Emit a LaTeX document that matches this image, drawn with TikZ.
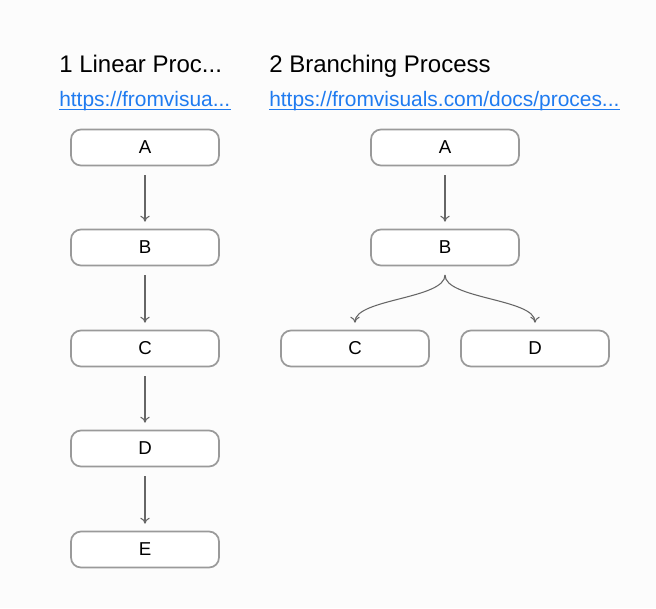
\documentclass[tikz,border=0pt]{standalone}
\usepackage{fontspec}
\setmainfont{Liberation Sans}
\usetikzlibrary{arrows.meta}
\definecolor{bg}{HTML}{FCFCFC}
\definecolor{boxline}{HTML}{9A9A9A}
\definecolor{arrowc}{HTML}{666666}
\definecolor{linkc}{HTML}{1F7BF0}
\tikzset{
  procbox/.style={draw=boxline, line width=1.3pt, rounded corners=7.5pt, fill=white,
    minimum width=111pt, minimum height=27pt, inner sep=0pt, font=\fontsize{14pt}{16pt}\selectfont},
  title/.style={anchor=base west, inner sep=0pt, font=\fontsize{18pt}{21pt}\selectfont},
  linktext/.style={anchor=base west, inner sep=0pt, text=linkc, font=\fontsize{15.7pt}{19pt}\selectfont},
  uline/.style={draw=linkc, line width=0.8pt},
  flow/.style={draw=arrowc, line width=0.8pt, -{To[length=4.5pt,width=7pt]}},
}
\begin{document}
\begin{tikzpicture}[x=0.75pt,y=-0.75pt]
\fill[bg] (0,0) rectangle (656,608);
\useasboundingbox (0,0) rectangle (656,608);

\node[title] (t1) at (59,72) {1 Linear Proc...};
\node[linktext] (l1) at (59,106) {https://fromvisua...};
\draw[uline] ([yshift=-2.3pt]l1.base west) -- ([yshift=-2.3pt]l1.base east);
\node[title] (t2) at (269,72) {2 Branching Process};
\node[linktext] (l2) at (269,106) {https://fromvisuals.com/docs/proces...};
\draw[uline] ([yshift=-2.3pt]l2.base west) -- ([yshift=-2.3pt]l2.base east);

% linear
\node[procbox] (la) at (145,147.5) {A};
\node[procbox] (lb) at (145,247.5) {B};
\node[procbox] (lc) at (145,348.5) {C};
\node[procbox] (ld) at (145,448.5) {D};
\node[procbox] (le) at (145,549.5) {E};

\draw[flow] ([yshift=-6.5pt]la.south) -- ([yshift=5.2pt]lb.north);
\draw[flow] ([yshift=-6.5pt]lb.south) -- ([yshift=5.2pt]lc.north);
\draw[flow] ([yshift=-6.5pt]lc.south) -- ([yshift=5.2pt]ld.north);
\draw[flow] ([yshift=-6.5pt]ld.south) -- ([yshift=5.2pt]le.north);

% branching
\node[procbox] (ra) at (445,147.5) {A};
\node[procbox] (rb) at (445,247.5) {B};
\node[procbox] (rc) at (355,348.5) {C};
\node[procbox] (rd) at (535,348.5) {D};

\draw[flow] ([yshift=-6.5pt]ra.south) -- ([yshift=5.2pt]rb.north);
\coordinate (bs) at ([yshift=-6.5pt]rb.south);
\coordinate (ce) at ([yshift=5.2pt]rc.north);
\coordinate (de) at ([yshift=5.2pt]rd.north);
\draw[flow] (bs) .. controls ([yshift=-18pt]bs) and ([yshift=18pt]ce) .. (ce);
\draw[flow] (bs) .. controls ([yshift=-18pt]bs) and ([yshift=18pt]de) .. (de);
\end{tikzpicture}
\end{document}
